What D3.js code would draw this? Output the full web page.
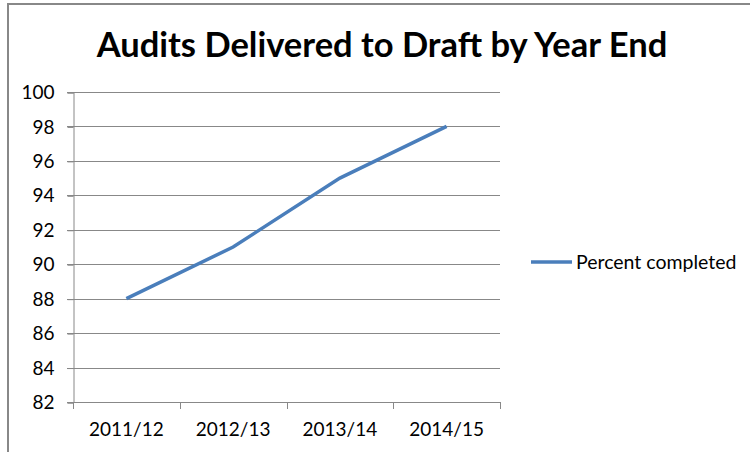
<!DOCTYPE html>
<html>
<head>
<meta charset="utf-8">
<script src="https://cdn.jsdelivr.net/npm/d3@7"></script>
<style>
  body { margin: 0; background: #fff; }
  svg { display: block; }
  svg text { font-family: Lato, "Open Sans", sans-serif; }
</style>
</head>
<body>
<div id="chart"></div>
<script>
// Données
const years = ["2011/12", "2012/13", "2013/14", "2014/15"];
const percentCompleted = [88, 91, 95, 98];
const yTicks = [82, 84, 86, 88, 90, 92, 94, 96, 98, 100];
const seriesName = "Percent completed";
const chartTitle = "Audits Delivered to Draft by Year End";

const width = 750;
const height = 452;
const plot = { left: 73, right: 500, top: 92, bottom: 402 };

const svg = d3
  .select("#chart")
  .append("svg")
  .attr("width", width)
  .attr("height", height);

// Cadre du graphique
svg
  .append("path")
  .attr("d", `M8,${height} V4 H${width}`)
  .style("fill", "none")
  .style("stroke", "#888")
  .style("stroke-width", 2);

// Titre
svg
  .append("text")
  .attr("x", 382)
  .attr("y", 57)
  .attr("text-anchor", "middle")
  .style("font-size", "34.5px")
  .style("font-weight", "bold")
  .text(chartTitle);

// Echelles
const x = d3
  .scaleBand()
  .domain(years)
  .range([plot.left, plot.right]);

const y = d3
  .scaleLinear()
  .domain([82, 100])
  .range([plot.bottom, plot.top]);

// Grille horizontale
svg
  .append("g")
  .selectAll("line")
  .data(yTicks)
  .enter()
  .append("line")
  .attr("x1", plot.left - 6)
  .attr("x2", plot.right)
  .attr("y1", (d) => Math.round(y(d)) + 0.5)
  .attr("y2", (d) => Math.round(y(d)) + 0.5)
  .style("stroke", "#888")
  .style("stroke-width", 1);

// Axe Y
const yAxis = svg
  .append("g")
  .attr("transform", `translate(${plot.left + 0.5},0.5)`)
  .call(d3.axisLeft(y).tickValues(yTicks).tickSize(6).tickPadding(13));
yAxis.select(".domain").style("stroke", "#888");
yAxis.selectAll(".tick line").style("stroke", "#888");
yAxis.selectAll("text").style("font-size", "19px").style("fill", "#000");

// Axe X
const xAxis = svg
  .append("g")
  .attr("transform", `translate(0,${Math.round(plot.bottom) + 0.5})`)
  .call(d3.axisBottom(x).tickSize(0).tickPadding(20));
xAxis.select(".domain").remove();
xAxis.selectAll("text").style("font-size", "19px").style("fill", "#000");

// Graduations entre les catégories
svg
  .append("g")
  .selectAll("line")
  .data(years.concat([null]))
  .enter()
  .append("line")
  .attr("x1", (d, i) => Math.round(plot.left + i * x.step()) + 0.5)
  .attr("x2", (d, i) => Math.round(plot.left + i * x.step()) + 0.5)
  .attr("y1", plot.bottom)
  .attr("y2", plot.bottom + 7)
  .style("stroke", "#888");

// Ligne de la série
const line = d3
  .line()
  .x((d, i) => x(years[i]) + x.bandwidth() / 2)
  .y((d) => y(d));

svg
  .append("path")
  .datum(percentCompleted)
  .attr("d", line)
  .style("fill", "none")
  .style("stroke", "#4a7ebb")
  .style("stroke-width", 3.5);

// Légende
svg
  .append("line")
  .attr("x1", 531)
  .attr("x2", 572)
  .attr("y1", 262)
  .attr("y2", 262)
  .style("stroke", "#4a7ebb")
  .style("stroke-width", 3.5);

svg
  .append("text")
  .attr("x", 576)
  .attr("y", 269)
  .style("font-size", "19.5px")
  .text(seriesName);
</script>
</body>
</html>
